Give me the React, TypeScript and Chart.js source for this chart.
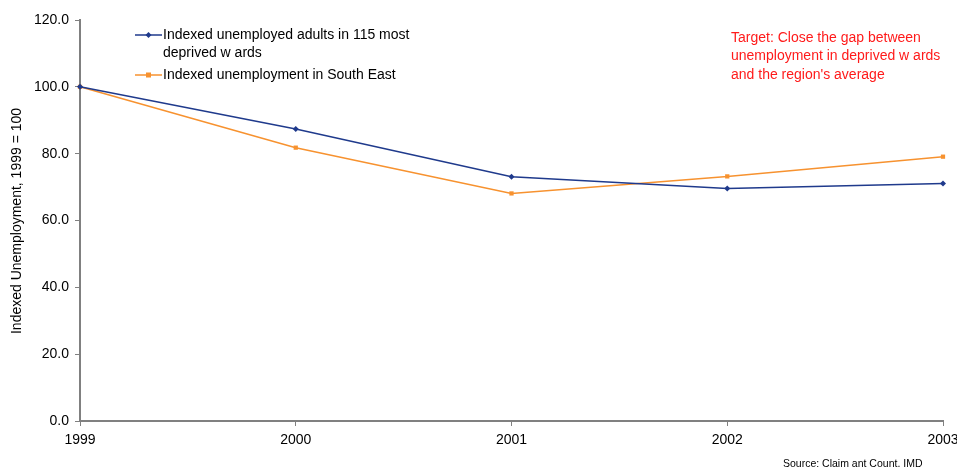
import React, { useEffect, useRef } from "react";
import { Chart, registerables } from "chart.js";

Chart.register(...registerables);

const years = ["1999", "2000", "2001", "2002", "2003"];
const deprivedWards = [100, 87.4, 73.1, 69.6, 71.1];
const southEast = [100, 81.8, 68.1, 73.2, 79.1];
const seriesNames = ["Indexed unemployed adults in 115 most", "deprived w ards", "Indexed unemployment in South East"];
const targetLines = ["Target: Close the gap between", "unemployment in deprived w ards", "and the region's average"];
const yTitle = "Indexed Unemployment, 1999 = 100";
const sourceText = "Source: Claim ant Count. IMD";

const BLUE = "#1F3A8C";
const ORANGE = "#F7922F";
const FONT = "Liberation Sans, Arial, sans-serif";

const overlay = {
  id: "overlay",
  afterDraw(chart: any) {
    const ctx = chart.ctx;
    ctx.save();
    // y title
    ctx.fillStyle = "#000";
    ctx.font = `14px ${FONT}`;
    ctx.textAlign = "center";
    ctx.textBaseline = "middle";
    ctx.translate(17, 221);
    ctx.rotate(-Math.PI / 2);
    ctx.fillText(yTitle, 0, 0);
    ctx.restore();

    ctx.save();
    // legend
    const lx = 135, lw = 27;
    const drawItem = (y: number, color: string, shape: string) => {
      ctx.strokeStyle = color;
      ctx.lineWidth = 1.5;
      ctx.beginPath();
      ctx.moveTo(lx, y);
      ctx.lineTo(lx + lw, y);
      ctx.stroke();
      ctx.fillStyle = color;
      const cx = lx + lw / 2;
      if (shape === "diamond") {
        ctx.beginPath();
        ctx.moveTo(cx, y - 3);
        ctx.lineTo(cx + 3, y);
        ctx.lineTo(cx, y + 3);
        ctx.lineTo(cx - 3, y);
        ctx.closePath();
        ctx.fill();
      } else {
        ctx.fillRect(cx - 2.5, y - 2.5, 5, 5);
      }
    };
    drawItem(35, BLUE, "diamond");
    drawItem(75, ORANGE, "square");
    ctx.fillStyle = "#000";
    ctx.font = `14px ${FONT}`;
    ctx.textAlign = "left";
    ctx.textBaseline = "middle";
    ctx.fillText(seriesNames[0], 163, 35);
    ctx.fillText(seriesNames[1], 163, 53);
    ctx.fillText(seriesNames[2], 163, 75);

    // target text
    ctx.fillStyle = "#FF1A1A";
    targetLines.forEach((t, i) => ctx.fillText(t, 731, 38 + i * 18.5));

    // source
    ctx.fillStyle = "#000";
    ctx.font = `10.5px ${FONT}`;
    ctx.fillText(sourceText, 783, 464);
    ctx.restore();
  },
};

export default function App() {
  const ref = useRef<HTMLCanvasElement>(null);
  useEffect(() => {
    document.body.style.margin = "0";
    const chart = new Chart(ref.current!, {
      type: "line",
      data: {
        labels: years,
        datasets: [
          {
            label: seriesNames[0] + " " + seriesNames[1],
            data: deprivedWards,
            borderColor: BLUE,
            backgroundColor: BLUE,
            borderWidth: 1.5,
            pointStyle: "rectRot",
            pointRadius: 3,
            pointBorderWidth: 0,
            tension: 0,
          },
          {
            label: seriesNames[2],
            data: southEast,
            borderColor: ORANGE,
            backgroundColor: ORANGE,
            borderWidth: 1.5,
            pointStyle: "rect",
            pointRadius: 3,
            pointBorderWidth: 0,
            tension: 0,
          },
        ],
      },
      options: {
        animation: false,
        responsive: false,
        maintainAspectRatio: false,
        layout: { padding: { top: 20, right: 14, left: 0, bottom: 0 } },
        plugins: { legend: { display: false }, tooltip: { enabled: false } },
        scales: {
          x: {
            offset: false,
            grid: { drawOnChartArea: false, drawTicks: true, tickLength: 5, color: "#808080" },
            border: { color: "#808080", width: 2 },
            ticks: { color: "#000", font: { family: FONT, size: 14 }, padding: 6, maxRotation: 0, autoSkip: false },
            afterFit: (s: any) => { s.height = 47; s.paddingLeft = 0; s.paddingRight = 0; },
          },
          y: {
            min: 0,
            max: 120,
            grid: { drawOnChartArea: false, drawTicks: true, tickLength: 5, color: "#808080" },
            border: { color: "#808080", width: 2 },
            ticks: {
              stepSize: 20,
              color: "#000",
              font: { family: FONT, size: 14 },
              padding: 6,
              callback: (v: any) => Number(v).toFixed(1),
            },
            afterFit: (s: any) => { s.width = 80; s.paddingTop = 0; s.paddingBottom = 0; },
          },
        },
      },
      plugins: [overlay],
    });
    return () => chart.destroy();
  }, []);
  return (
    <div style={{ position: "fixed", left: 0, top: 0, width: 957, height: 468 }}>
      <canvas ref={ref} width={957} height={468} style={{ width: 957, height: 468 }} />
    </div>
  );
}
